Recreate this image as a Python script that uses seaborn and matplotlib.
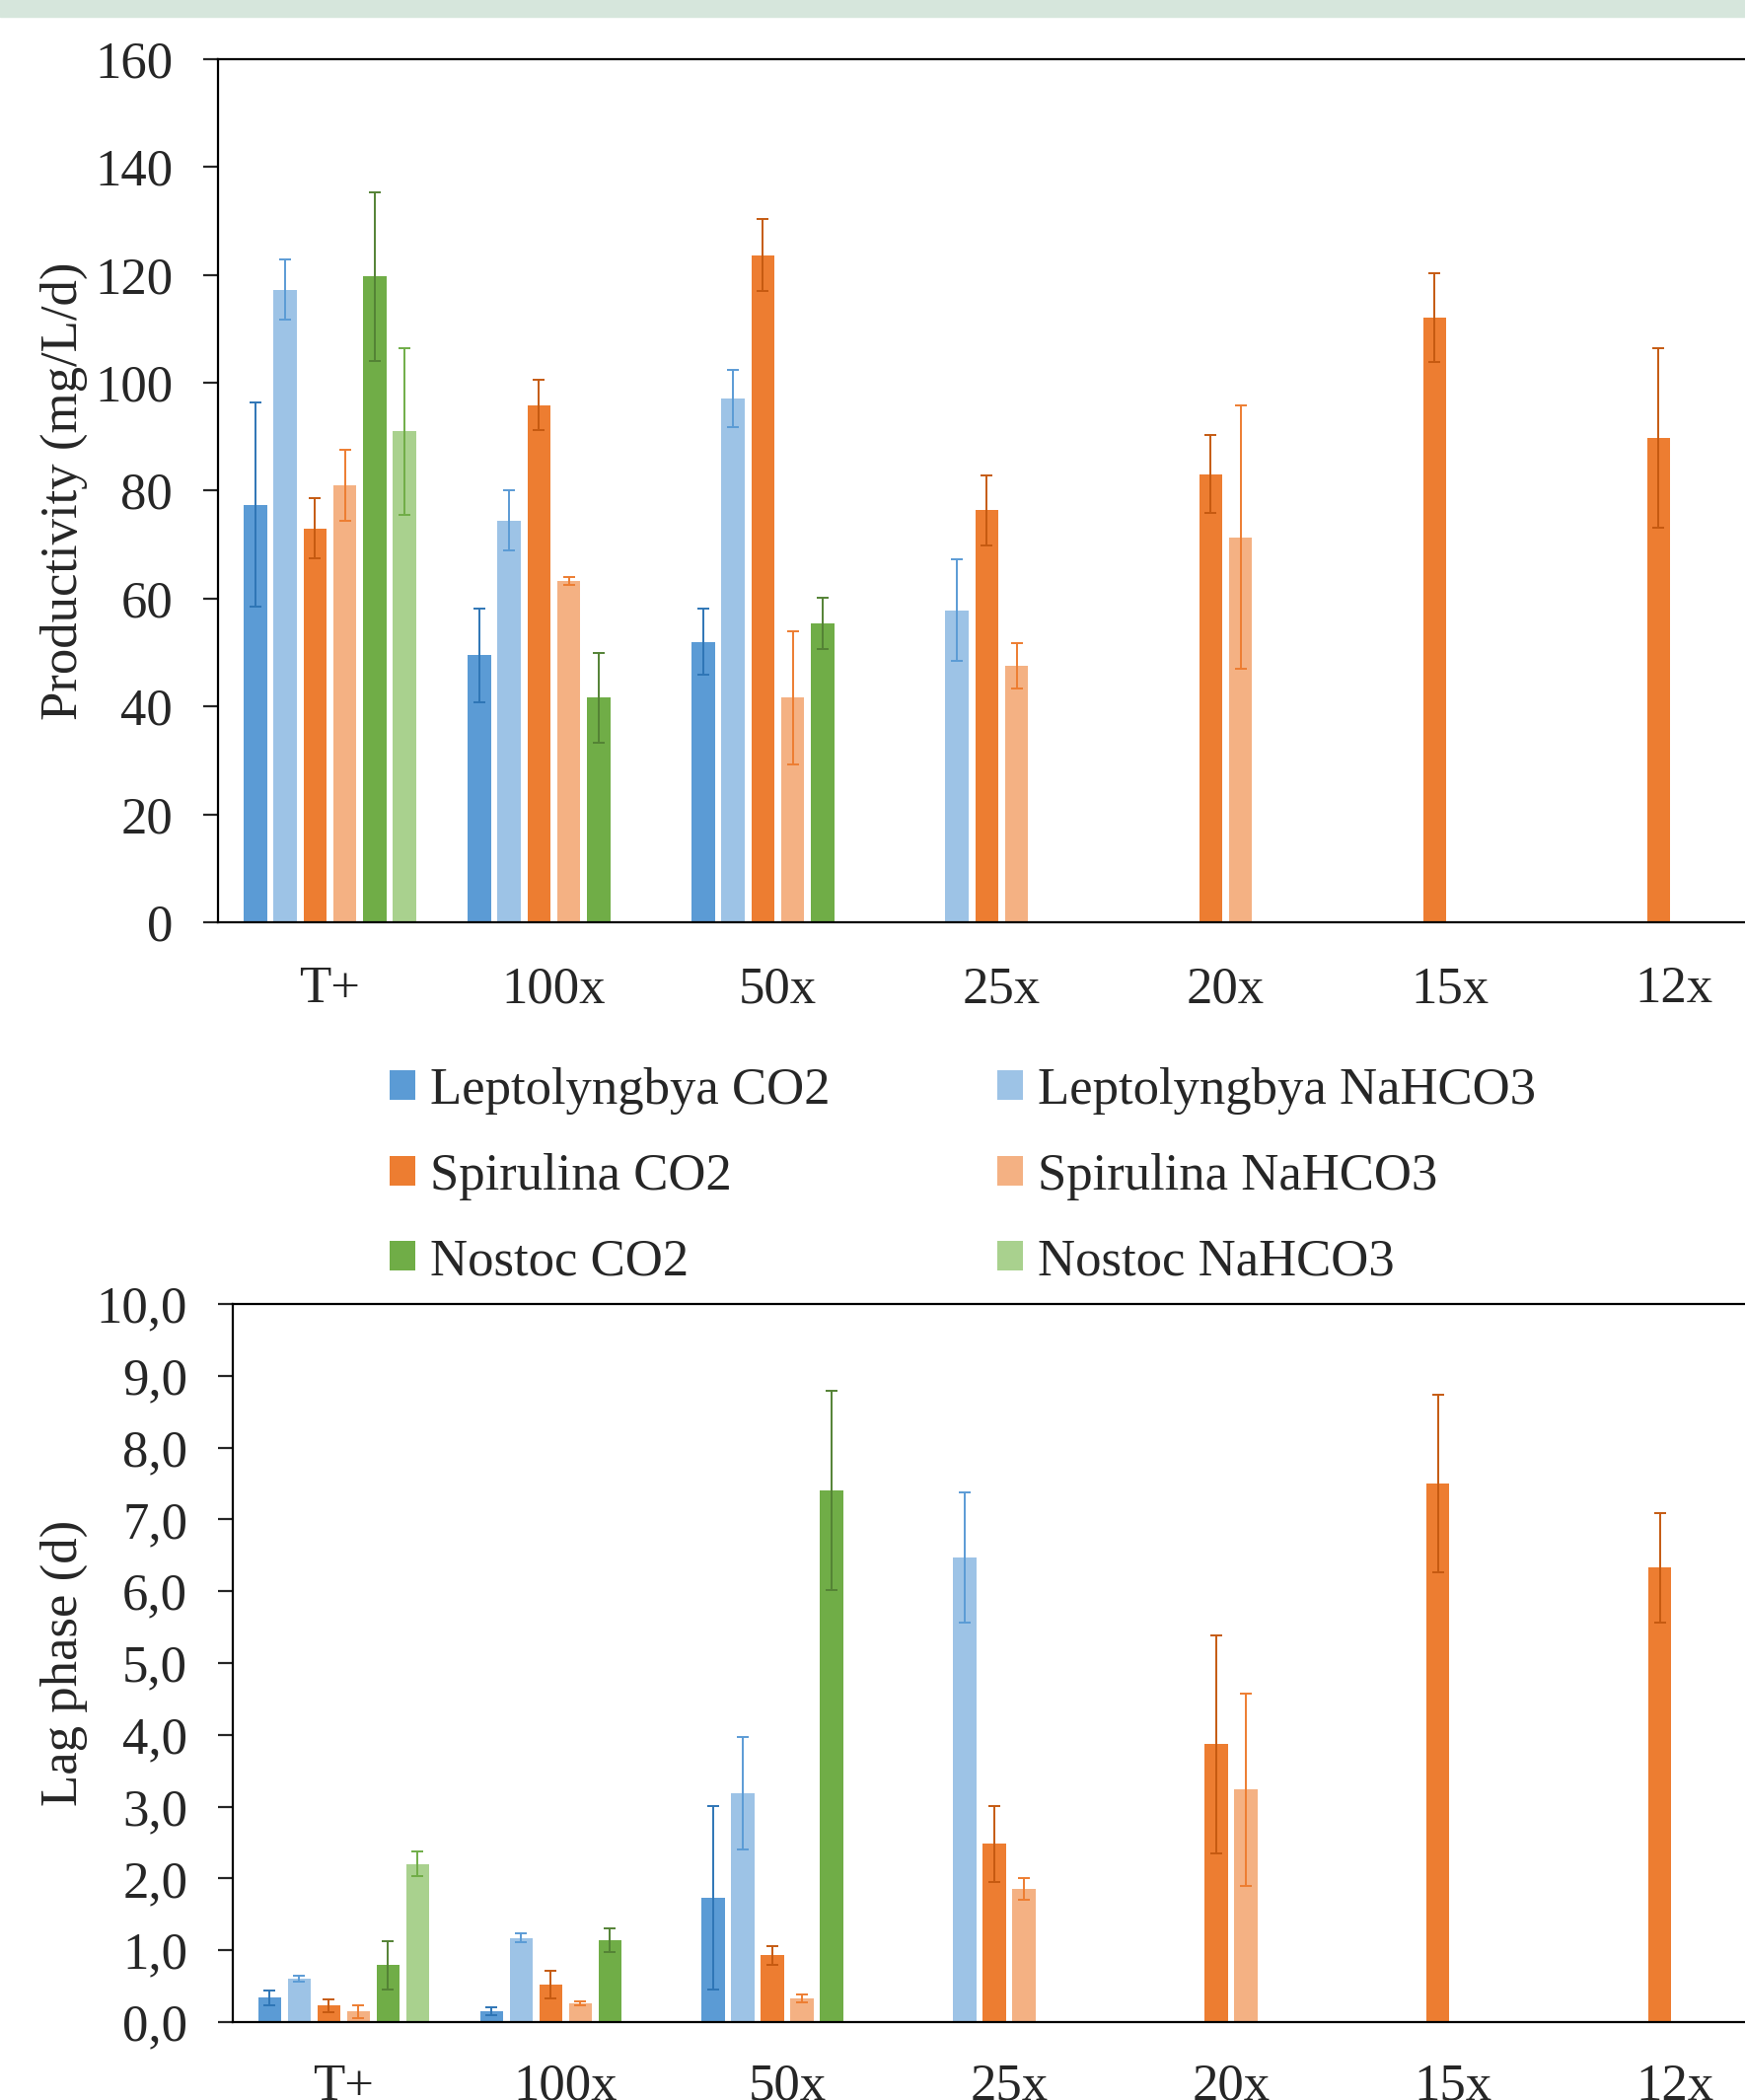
"""
Productivity and lag phase of three cyanobacteria grown with CO2 or NaHCO3
at different dilutions, two stacked grouped bar charts.
"""
import numpy as np
import pandas as pd
import seaborn as sns
import matplotlib.pyplot as plt
from matplotlib.colors import to_rgb
from matplotlib.patches import Patch, Rectangle
from matplotlib.ticker import FuncFormatter

# Categories and series
dilutions = ['T+', '100x', '50x', '25x', '20x', '15x', '12x']
series = ['Leptolyngbya CO2', 'Leptolyngbya NaHCO3',
          'Spirulina CO2', 'Spirulina NaHCO3',
          'Nostoc CO2', 'Nostoc NaHCO3']
bar_colors = ['#5B9BD5', '#9DC3E6', '#ED7D31', '#F4B183', '#70AD47', '#A9D18E']
err_colors = ['#2E75B6', '#5B9BD5', '#C55A11', '#ED7D31', '#548235', '#70AD47']

nan = np.nan

# Productivity (mg/L/d), one list per series over the dilutions
prod_lepto_co2 = [77.4, 49.5, 52.0, nan, nan, nan, nan]
prod_lepto_nahco3 = [117.3, 74.5, 97.1, 57.8, nan, nan, nan]
prod_spir_co2 = [73.0, 95.9, 123.7, 76.4, 83.1, 112.1, 89.8]
prod_spir_nahco3 = [81.0, 63.3, 41.6, 47.6, 71.4, nan, nan]
prod_nostoc_co2 = [119.7, 41.6, 55.4, nan, nan, nan, nan]
prod_nostoc_nahco3 = [91.0, nan, nan, nan, nan, nan, nan]

prod_err_lepto_co2 = [18.9, 8.7, 6.1, nan, nan, nan, nan]
prod_err_lepto_nahco3 = [5.5, 5.5, 5.3, 9.4, nan, nan, nan]
prod_err_spir_co2 = [5.6, 4.6, 6.7, 6.5, 7.2, 8.2, 16.6]
prod_err_spir_nahco3 = [6.5, 0.7, 12.3, 4.2, 24.4, nan, nan]
prod_err_nostoc_co2 = [15.7, 8.3, 4.7, nan, nan, nan, nan]
prod_err_nostoc_nahco3 = [15.4, nan, nan, nan, nan, nan, nan]

# Lag phase (d)
lag_lepto_co2 = [0.34, 0.15, 1.73, nan, nan, nan, nan]
lag_lepto_nahco3 = [0.60, 1.17, 3.19, 6.47, nan, nan, nan]
lag_spir_co2 = [0.23, 0.52, 0.93, 2.48, 3.87, 7.50, 6.33]
lag_spir_nahco3 = [0.15, 0.26, 0.33, 1.85, 3.24, nan, nan]
lag_nostoc_co2 = [0.79, 1.14, 7.40, nan, nan, nan, nan]
lag_nostoc_nahco3 = [2.20, nan, nan, nan, nan, nan, nan]

lag_err_lepto_co2 = [0.10, 0.06, 1.28, nan, nan, nan, nan]
lag_err_lepto_nahco3 = [0.04, 0.06, 0.78, 0.90, nan, nan, nan]
lag_err_spir_co2 = [0.09, 0.19, 0.13, 0.53, 1.52, 1.24, 0.76]
lag_err_spir_nahco3 = [0.09, 0.03, 0.05, 0.15, 1.34, nan, nan]
lag_err_nostoc_co2 = [0.33, 0.17, 1.39, nan, nan, nan, nan]
lag_err_nostoc_nahco3 = [0.17, nan, nan, nan, nan, nan, nan]

prod_ticks = [0, 20, 40, 60, 80, 100, 120, 140, 160]
lag_ticks = [0, 1, 2, 3, 4, 5, 6, 7, 8, 9, 10]


def build_frame(values, errors):
    rows = []
    for name, vals, errs in zip(series, values, errors):
        for dil, v, e in zip(dilutions, vals, errs):
            if not np.isnan(v):
                rows.append({'dilution': dil, 'series': name, 'value': v, 'err': e})
    return pd.DataFrame(rows)


def series_of(bar):
    # match a drawn bar back to its series through its fill colour
    fc = bar.get_facecolor()[:3]
    return min(range(len(series)),
               key=lambda k: sum(abs(a - b) for a, b in zip(to_rgb(bar_colors[k]), fc)))


def draw_bars(ax, df):
    sns.barplot(data=df, x='dilution', y='value', hue='series',
                order=dilutions, hue_order=series, palette=bar_colors,
                saturation=1, width=0.8, gap=0.22, errorbar=None,
                linewidth=0, legend=False, ax=ax)
    # error bars on top of each bar, placed from the drawn patches
    for container in list(ax.containers):
        for bar in container:
            xc = bar.get_x() + bar.get_width() / 2
            dil = dilutions[int(round(xc))]
            i = series_of(bar)
            row = df[(df['series'] == series[i]) & (df['dilution'] == dil)]
            if row.empty:
                continue
            ax.errorbar(xc, row['value'].iloc[0], yerr=row['err'].iloc[0],
                        fmt='none', ecolor=err_colors[i], elinewidth=1.4,
                        capsize=4.5, capthick=1.4, zorder=5)


def style_axis(ax, ticks, ylabel, label_x):
    ax.set_xlim(-0.5, 6.5)
    ax.set_ylim(ticks[0], ticks[-1])
    ax.set_yticks(ticks)
    ax.set_xlabel('')
    ax.set_ylabel(ylabel, fontsize=38)
    ax.yaxis.set_label_coords(label_x, 0.5)
    for side in ['left', 'bottom', 'top']:
        ax.spines[side].set_visible(True)
        ax.spines[side].set_color('black')
        ax.spines[side].set_linewidth(1.6)
    ax.spines['right'].set_visible(False)
    ax.tick_params(axis='y', length=11, width=1.6, direction='out',
                   pad=22, labelsize=38, left=True)
    ax.tick_params(axis='x', length=0, pad=32, labelsize=38)


def main():
    sns.set_theme(style='white')
    plt.rcParams['font.family'] = ['Liberation Serif', 'DejaVu Serif']

    fig = plt.figure(figsize=(17.69, 21.29), dpi=100)

    # thin band along the top edge
    fig.patches.append(Rectangle((0, 1 - 17 / 2129), 1, 17 / 2129,
                                 transform=fig.transFigure,
                                 color='#D6E6DC', zorder=0))

    prod_df = build_frame(
        [prod_lepto_co2, prod_lepto_nahco3, prod_spir_co2,
         prod_spir_nahco3, prod_nostoc_co2, prod_nostoc_nahco3],
        [prod_err_lepto_co2, prod_err_lepto_nahco3, prod_err_spir_co2,
         prod_err_spir_nahco3, prod_err_nostoc_co2, prod_err_nostoc_nahco3])
    lag_df = build_frame(
        [lag_lepto_co2, lag_lepto_nahco3, lag_spir_co2,
         lag_spir_nahco3, lag_nostoc_co2, lag_nostoc_nahco3],
        [lag_err_lepto_co2, lag_err_lepto_nahco3, lag_err_spir_co2,
         lag_err_spir_nahco3, lag_err_nostoc_co2, lag_err_nostoc_nahco3])

    # Productivity chart (right side runs off the figure, as in the source)
    ax1 = fig.add_axes([221 / 1769, 1 - 935 / 2129, 1589 / 1769, 875 / 2129])
    draw_bars(ax1, prod_df)
    style_axis(ax1, prod_ticks, 'Productivity (mg/L/d)', -0.083)

    # Lag phase chart
    ax2 = fig.add_axes([236 / 1769, 1 - 2050 / 2129, 1574 / 1769, 728 / 2129])
    draw_bars(ax2, lag_df)
    style_axis(ax2, lag_ticks, 'Lag phase (d)', -0.0935)
    ax2.tick_params(axis='x', pad=30)
    ax2.yaxis.set_major_formatter(
        FuncFormatter(lambda v, p: f'{v:.1f}'.replace('.', ',')))

    # Legend, filled row by row
    order = [0, 2, 4, 1, 3, 5]
    handles = [Patch(facecolor=bar_colors[i], edgecolor='none') for i in order]
    labels = [series[i] for i in order]
    fig.legend(handles, labels, ncol=2, loc='upper left',
               bbox_to_anchor=(395 / 1769, 1 - 1082 / 2129),
               frameon=False, fontsize=38, borderpad=0, borderaxespad=0,
               handlelength=0.5, handleheight=0.5, handletextpad=0.28,
               labelspacing=0.73, columnspacing=3.2)

    fig.savefig('out.png', dpi=100)


if __name__ == "__main__":
    main()
